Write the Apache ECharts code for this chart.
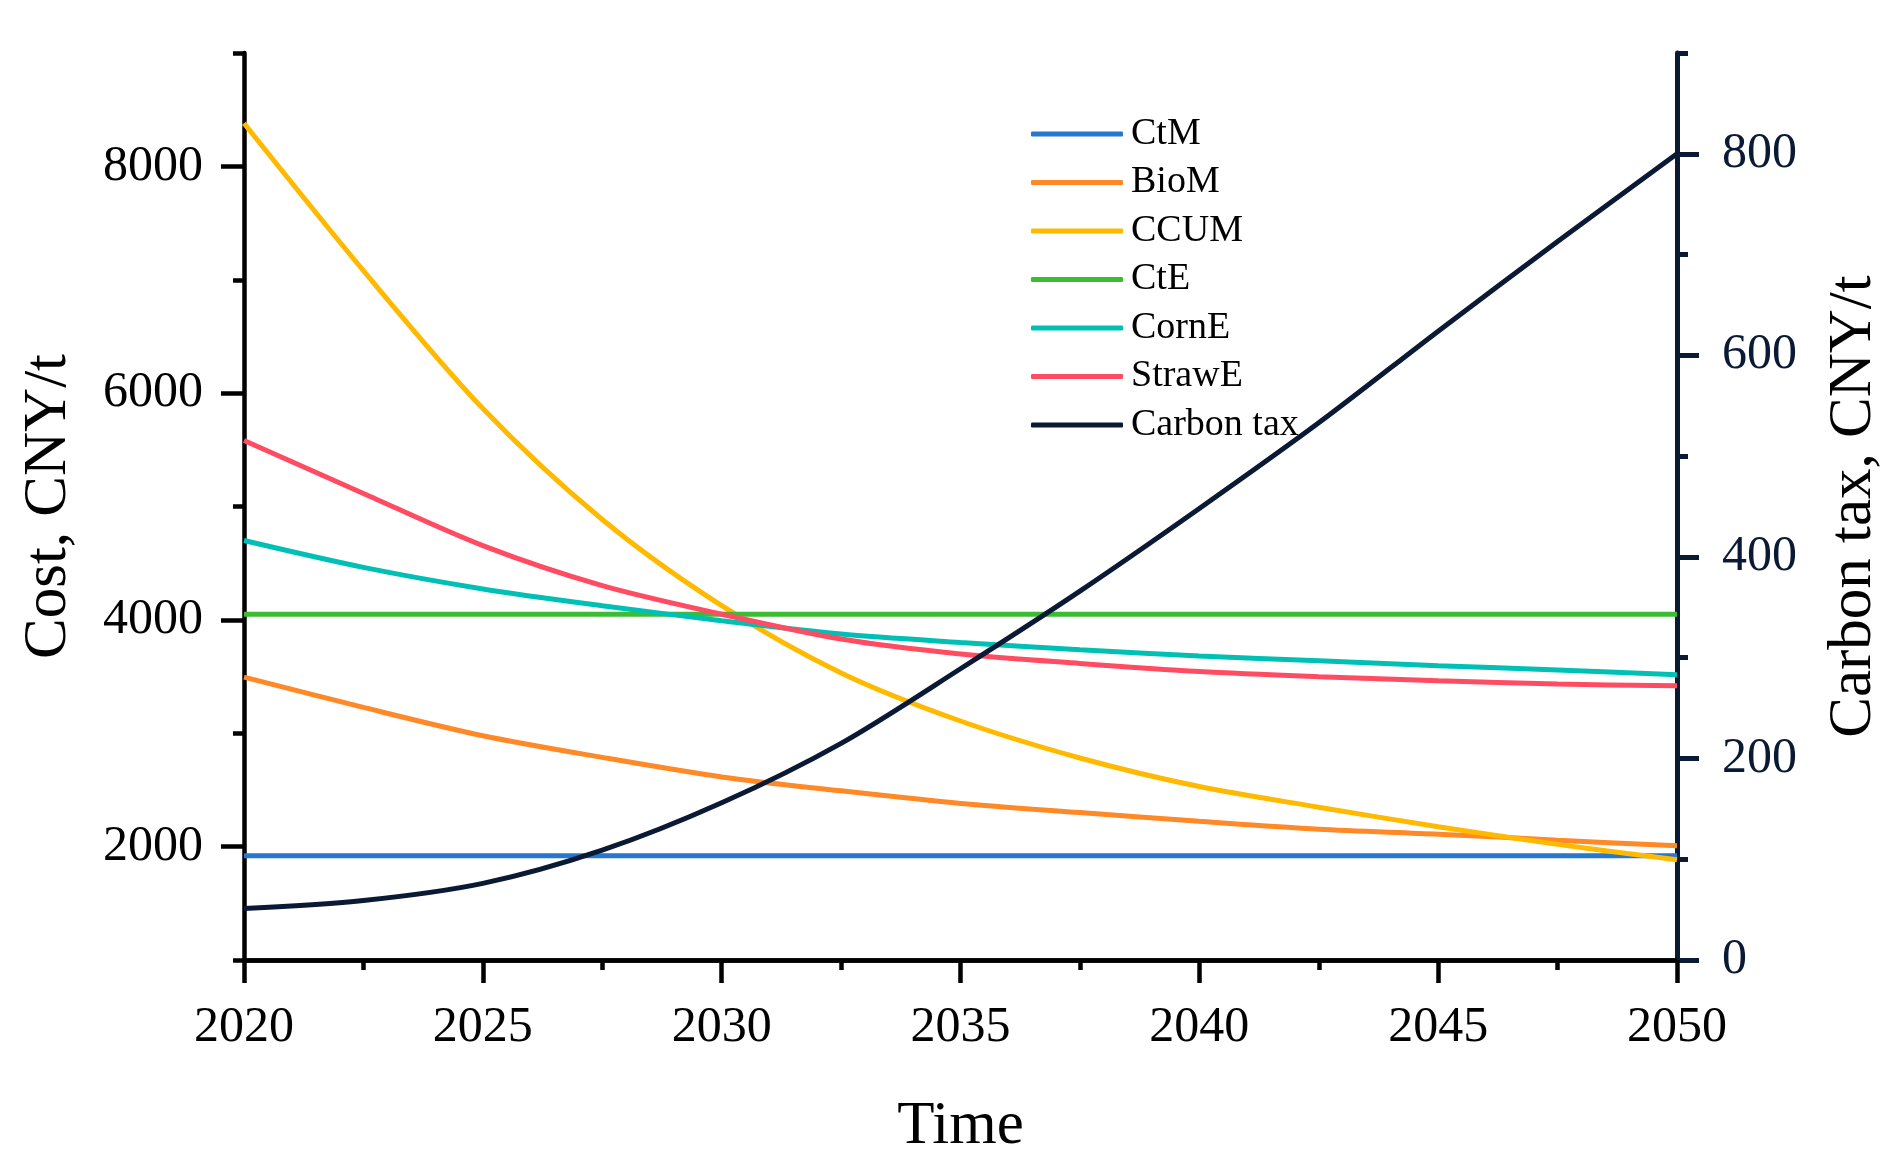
<!DOCTYPE html>
<html>
<head>
<meta charset="utf-8">
<script src="https://cdn.jsdelivr.net/npm/echarts@6/dist/echarts.min.js"></script>
<style>html,body{margin:0;padding:0;background:#fff;}#c{width:1893px;height:1165px;}</style>
</head>
<body>
<div id="c"></div>
<script>
// Data
const years = [2020, 2022.5, 2025, 2027.5, 2030, 2032.5, 2035, 2037.5, 2040, 2042.5, 2045, 2047.5, 2050];
const ctM = [1920, 1920, 1920, 1920, 1920, 1920, 1920, 1920, 1920, 1920, 1920, 1920, 1920];
const bioM = [3495, 3228, 2978, 2787, 2615, 2492, 2381, 2301, 2224, 2154, 2110, 2057, 2007];
const ccuM = [8380, 7080, 5864, 4885, 4125, 3532, 3108, 2782, 2530, 2348, 2175, 2020, 1884];
const ctE = [4050, 4050, 4050, 4050, 4050, 4050, 4050, 4050, 4050, 4050, 4050, 4050, 4050];
const cornE = [4700, 4463, 4273, 4125, 3993, 3875, 3801, 3737, 3681, 3640, 3596, 3558, 3516];
const strawE = [5582, 5115, 4655, 4302, 4050, 3831, 3699, 3616, 3545, 3499, 3463, 3434, 3419];
const carbonTax = [51, 59, 76, 109, 156, 215, 289, 366, 448, 533, 624, 713, 800];

const leftMajor = [2000, 4000, 6000, 8000];
const leftMinor = [1000, 3000, 5000, 7000, 9000];
const rightMajor = [0, 200, 400, 600, 800];
const rightMinor = [100, 300, 500, 700, 900];

const FONT = 'Liberation Serif';
const NAVY = '#0a1a34';
const pair = arr => years.map((y, i) => [y, arr[i]]);
const plain = v => String(v);

const chart = echarts.init(document.getElementById('c'), null, {renderer: 'canvas'});

function lineSeries(name, data, color, yIdx) {
  return {
    name: name, type: 'line', data: pair(data), yAxisIndex: yIdx || 0,
    smooth: 0.3, symbol: 'none', showSymbol: false,
    lineStyle: {color: color, width: 5}, itemStyle: {color: color},
    emphasis: {disabled: true}
  };
}

chart.setOption({
  animation: false,
  backgroundColor: '#fff',
  grid: {left: 244, right: 216, top: 53, bottom: 205, containLabel: false},
  legend: {
    orient: 'vertical', left: 1031, top: 114, padding: 0,
    itemWidth: 92, itemHeight: 5, itemGap: 8.5, icon: 'roundRect',
    textStyle: {fontFamily: FONT, fontSize: 38, color: '#000', lineHeight: 40, padding: [0, 0, 0, 3]},
    data: ['CtM', 'BioM', 'CCUM', 'CtE', 'CornE', 'StrawE', 'Carbon tax']
  },
  xAxis: [
    {
      type: 'value', min: 2020, max: 2050, interval: 5, position: 'bottom',
      name: 'Time', nameLocation: 'middle', nameGap: 136,
      nameTextStyle: {fontFamily: FONT, fontSize: 61, color: '#000'},
      axisLine: {lineStyle: {color: '#000', width: 4.5}},
      axisTick: {length: 23, lineStyle: {color: '#000', width: 4.5}},
      minorTick: {show: true, splitNumber: 2, length: 10, lineStyle: {color: '#000', width: 4.5}},
      axisLabel: {fontFamily: FONT, fontSize: 50, color: '#000', margin: 43, formatter: plain},
      splitLine: {show: false}, minorSplitLine: {show: false}
    },
    {
      type: 'value', min: 2020, max: 2050, position: 'top',
      axisLine: {show: true, lineStyle: {color: '#000', width: 4.5}},
      axisTick: {show: false}, axisLabel: {show: false}, splitLine: {show: false}
    }
  ],
  yAxis: [
    {
      type: 'value', min: 1000, max: 9000, interval: 1000, position: 'left',
      name: 'Cost, CNY/t', nameLocation: 'middle', nameGap: 165, nameRotate: 90,
      nameTextStyle: {fontFamily: FONT, fontSize: 61, color: '#000'},
      axisLine: {show: true, lineStyle: {color: '#000', width: 4.5}},
      axisTick: {show: true, length: 23, customValues: leftMajor, lineStyle: {color: '#000', width: 4.5}},
      axisLabel: {fontFamily: FONT, fontSize: 50, color: '#000', margin: 41, customValues: leftMajor, formatter: plain},
      splitLine: {show: false}
    },
    {
      type: 'value', min: 0, max: 900, interval: 100, position: 'right',
      name: 'Carbon tax, CNY/t', nameLocation: 'middle', nameGap: 146, nameRotate: 90,
      nameTextStyle: {fontFamily: FONT, fontSize: 61, color: '#000'},
      axisLine: {show: true, lineStyle: {color: NAVY, width: 5}},
      axisTick: {show: true, length: 22, customValues: rightMajor, lineStyle: {color: NAVY, width: 5}},
      axisLabel: {fontFamily: FONT, fontSize: 50, color: NAVY, margin: 45, customValues: rightMajor, formatter: plain},
      splitLine: {show: false}
    },
    {
      type: 'value', min: 1000, max: 9000, interval: 1000, position: 'left',
      axisLine: {show: false},
      axisTick: {show: true, length: 11, customValues: leftMinor, lineStyle: {color: '#000', width: 4.5}},
      axisLabel: {show: false}, splitLine: {show: false}
    },
    {
      type: 'value', min: 0, max: 900, interval: 100, position: 'right',
      axisLine: {show: false},
      axisTick: {show: true, length: 11, customValues: rightMinor, lineStyle: {color: NAVY, width: 5}},
      axisLabel: {show: false}, splitLine: {show: false}
    }
  ],
  series: [
    lineSeries('CtM', ctM, '#2677cf'),
    lineSeries('BioM', bioM, '#ff8827'),
    lineSeries('CCUM', ccuM, '#ffba00'),
    lineSeries('CtE', ctE, '#3cbc33'),
    lineSeries('CornE', cornE, '#00c0b5'),
    lineSeries('StrawE', strawE, '#ff4c63'),
    lineSeries('Carbon tax', carbonTax, NAVY, 1)
  ]
});
</script>
</body>
</html>
